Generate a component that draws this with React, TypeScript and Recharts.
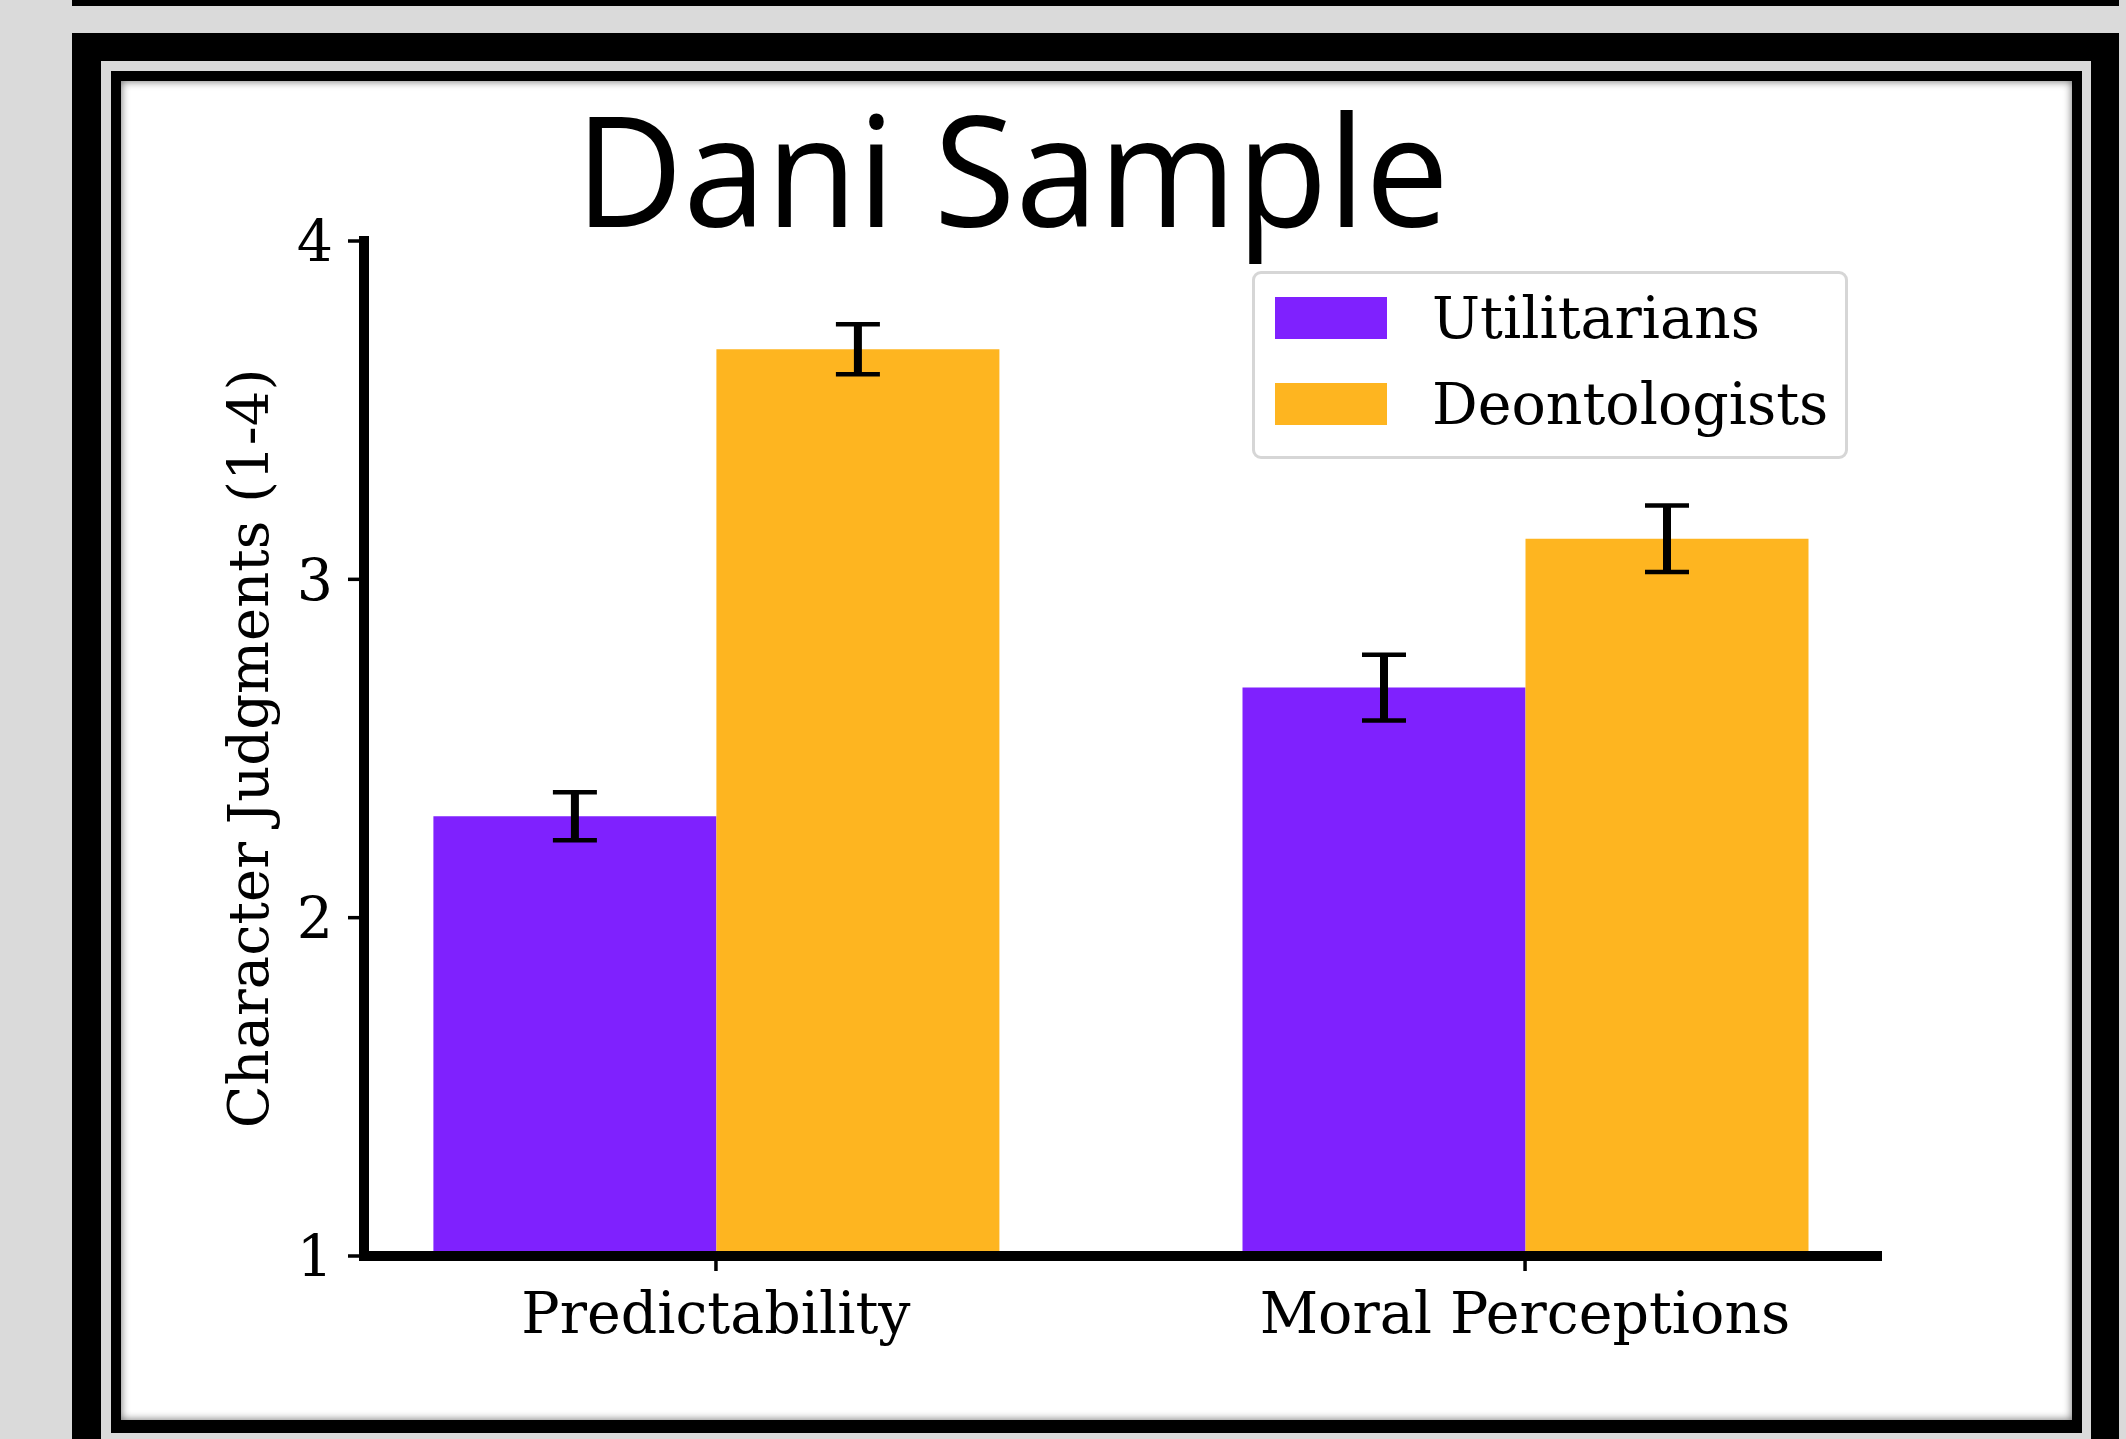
// Dani Sample: grouped bar chart of character judgments with error bars,
// drawn inside a slide-style double black frame.

import { BarChart, Bar, XAxis, YAxis, ErrorBar, Legend } from 'recharts'

// -----------------------------------------------------------------------------
// Data
// -----------------------------------------------------------------------------

const categories = ['Predictability', 'Moral Perceptions']
const seriesNames = ['Utilitarians', 'Deontologists']
const utilitarians = [2.3, 2.68]
const deontologists = [3.68, 3.12]
const utilitarianErr = [0.071, 0.097]
const deontologistErr = [0.074, 0.098]
const yTicks = [1, 2, 3, 4]

const data = categories.map((category, i) => ({
  category,
  utilitarians: utilitarians[i],
  deontologists: deontologists[i],
  uErr: utilitarianErr[i],
  dErr: deontologistErr[i],
}))

// -----------------------------------------------------------------------------
// Styling
// -----------------------------------------------------------------------------

const PURPLE = '#7f21fe'
const ORANGE = '#feb520'
const SERIF = '"DejaVu Serif", serif'
const TICK_FONT = 57

const tickStyle = { fontFamily: SERIF, fontSize: TICK_FONT, fill: '#000' }
const spine = { stroke: '#000', strokeWidth: 10, strokeLinecap: 'square' as const }
const tickLine = { stroke: '#000', strokeWidth: 3.5 }

interface LegendEntry {
  value?: string
  color?: string
}

function LegendBox({ payload }: { payload?: LegendEntry[] }) {
  // keep the series order (recharts sorts legend items by name by default)
  const items = [...(payload ?? [])].sort(
    (a, b) => seriesNames.indexOf(a.value ?? '') - seriesNames.indexOf(b.value ?? ''),
  )
  return (
    <div
      style={{
        position: 'relative',
        width: 596,
        height: 188,
        boxSizing: 'border-box',
        border: '3px solid #d6d6d6',
        borderRadius: 9,
        background: '#fff',
      }}
    >
      {items.map((entry, i) => (
        <div
          key={`legend-${i}`}
          style={{ position: 'absolute', left: 20, top: 23 + i * 86, display: 'flex', alignItems: 'flex-start' }}
        >
          <span style={{ display: 'inline-block', width: 112, height: 42, background: entry.color }} />
          <span
            style={{
              marginLeft: 45,
              fontFamily: SERIF,
              fontSize: TICK_FONT,
              lineHeight: '42px',
              color: '#000',
              whiteSpace: 'nowrap',
            }}
          >
            {entry.value}
          </span>
        </div>
      ))}
    </div>
  )
}

function Frame() {
  const abs = { position: 'absolute' as const }
  return (
    <>
      <div style={{ ...abs, left: 72, top: 0, width: 2047, height: 6, background: '#000' }} />
      <div style={{ ...abs, left: 72, top: 33, width: 2047, height: 1500, background: '#000' }} />
      <div style={{ ...abs, left: 101, top: 61, width: 1990, height: 1500, background: '#dadada' }} />
      <div style={{ ...abs, left: 111, top: 71, width: 1971, height: 1362, background: '#000' }} />
      <div
        style={{
          ...abs,
          left: 121,
          top: 81,
          width: 1951,
          height: 1339,
          background: '#fff',
          boxShadow: 'inset 0 0 8px rgba(0,0,0,0.6)',
        }}
      />
    </>
  )
}

export default function App() {
  return (
    <div
      style={{
        position: 'absolute',
        left: 0,
        top: 0,
        width: 2126,
        height: 1439,
        background: '#dadada',
        overflow: 'hidden',
      }}
    >
      <Frame />

      <div style={{ position: 'absolute', left: 0, top: 0 }}>
        <BarChart
          width={2126}
          height={1439}
          data={data}
          margin={{ top: 241, right: 249, bottom: 83, left: 214 }}
          barGap={0}
          barSize={283}
        >
          <XAxis
            dataKey="category"
            height={100}
            padding={{ left: -52.6, right: -52.6 }}
            axisLine={spine}
            tickLine={tickLine}
            tickSize={15}
            tickMargin={22}
            tick={tickStyle}
            interval={0}
          />
          <YAxis
            width={150}
            type="number"
            domain={[1, 4]}
            ticks={yTicks}
            allowDataOverflow
            axisLine={spine}
            tickLine={tickLine}
            tickSize={16}
            tickMargin={15}
            tick={tickStyle}
            label={{
              value: 'Character Judgments (1-4)',
              angle: -90,
              position: 'insideLeft',
              offset: 34,
              style: { fontFamily: SERIF, fontSize: 56, fill: '#000', textAnchor: 'middle' },
            }}
          />
          <Legend
            layout="vertical"
            align="center"
            verticalAlign="middle"
            wrapperStyle={{ left: 1252, top: 271, width: 596, height: 188 }}
            content={(props: any) => <LegendBox payload={props.payload} />}
          />
          <Bar dataKey="utilitarians" name={seriesNames[0]} fill={PURPLE} isAnimationActive={false}>
            <ErrorBar dataKey="uErr" direction="y" width={0} strokeWidth={8} stroke="#000" isAnimationActive={false} />
            <ErrorBar dataKey="uErr" direction="y" width={22} strokeWidth={4.5} stroke="#000" isAnimationActive={false} />
          </Bar>
          <Bar dataKey="deontologists" name={seriesNames[1]} fill={ORANGE} isAnimationActive={false}>
            <ErrorBar dataKey="dErr" direction="y" width={0} strokeWidth={8} stroke="#000" isAnimationActive={false} />
            <ErrorBar dataKey="dErr" direction="y" width={22} strokeWidth={4.5} stroke="#000" isAnimationActive={false} />
          </Bar>
        </BarChart>
      </div>

      {/* slide title sits above the chart */}
      <svg width={2126} height={300} style={{ position: 'absolute', left: 0, top: 0, pointerEvents: 'none' }}>
        <text
          x={1012}
          y={227}
          textAnchor="middle"
          textLength={874}
          lengthAdjust="spacingAndGlyphs"
          style={{ fontFamily: '"Open Sans", sans-serif', fontSize: 153, fill: '#000' }}
        >
          Dani Sample
        </text>
      </svg>
    </div>
  )
}
